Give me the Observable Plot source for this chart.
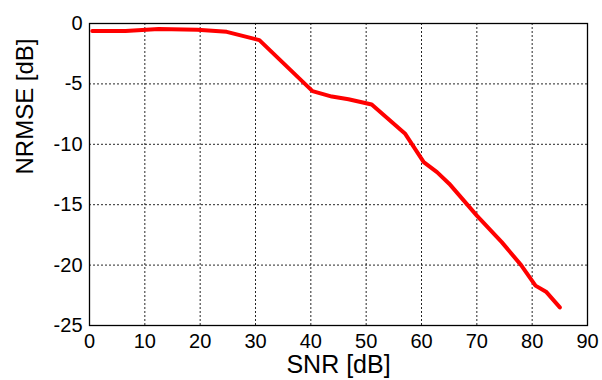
<!DOCTYPE html>
<html>
<head>
<meta charset="utf-8">
<script src="https://cdn.jsdelivr.net/npm/d3@7"></script>
<script src="https://cdn.jsdelivr.net/npm/@observablehq/plot@0.6"></script>
<style>
  html, body { margin: 0; padding: 0; background: #fff; }
</style>
</head>
<body>
<div id="chart"></div>
<script>
const snr = [0.5, 6.5, 12.5, 19.5, 24.8, 30.7, 40.3, 43.8, 46.8, 51, 57, 60.4, 62.8, 65, 70, 74.5, 78, 80.6, 82.5, 85];
const nrmse = [-0.62, -0.62, -0.45, -0.52, -0.69, -1.38, -5.6, -6.05, -6.27, -6.71, -9.1, -11.47, -12.3, -13.26, -15.9, -18.1, -20.0, -21.7, -22.2, -23.5];
const xTicks = [0, 10, 20, 30, 40, 50, 60, 70, 80, 90];
const yTicks = [0, -5, -10, -15, -20, -25];
const xLabel = "SNR [dB]";
const yLabel = "NRMSE [dB]";

const data = snr.map((x, i) => ({x, y: nrmse[i]}));

const chart = Plot.plot({
  width: 602,
  height: 380,
  marginLeft: 89,
  marginRight: 15,
  marginTop: 23,
  marginBottom: 55,
  style: {fontFamily: "'Liberation Sans', Arial, sans-serif", background: "#fff", color: "#000"},
  x: {domain: [0, 90]},
  y: {domain: [-25, 0]},
  marks: [
    Plot.gridX(xTicks, {stroke: "#000", strokeOpacity: 0.85, strokeDasharray: "2,2"}),
    Plot.gridY(yTicks, {stroke: "#000", strokeOpacity: 0.85, strokeDasharray: "2,2"}),
    Plot.frame({stroke: "#000", strokeWidth: 1.3}),
    Plot.axisX({ticks: xTicks, tickSize: 0, tickPadding: 8, fontSize: 20, label: null, tickFormat: d => String(d)}),
    Plot.axisY({ticks: yTicks, tickSize: 0, tickPadding: 7, fontSize: 20, label: null, tickFormat: d => String(d)}),
    Plot.line(data, {x: "x", y: "y", stroke: "#ff0000", strokeWidth: 4, strokeLinejoin: "round"}),
    Plot.text([xLabel], {frameAnchor: "bottom", lineAnchor: "middle", dy: 39, fontSize: 25, fill: "#000"}),
    Plot.text([yLabel], {frameAnchor: "left", lineAnchor: "middle", rotate: -90, dx: -64, fontSize: 24, fill: "#000"})
  ]
});
document.getElementById("chart").appendChild(chart);
</script>
</body>
</html>
